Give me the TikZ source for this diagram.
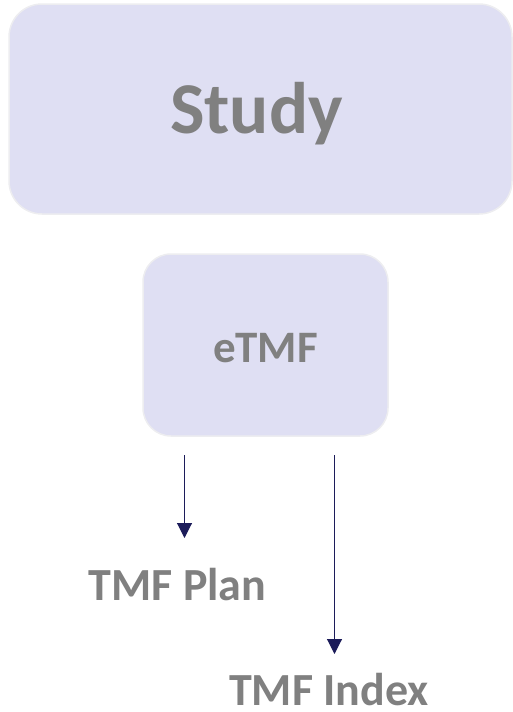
\documentclass[tikz,border=0pt]{standalone}
\usepackage{fontspec}
\setmainfont{Carlito}
\usetikzlibrary{arrows.meta}
\definecolor{boxfill}{HTML}{DFDFF3}
\definecolor{boxedge}{HTML}{EDEDF0}
\definecolor{labelgray}{HTML}{808080}
\definecolor{arrowblue}{HTML}{1C1C5A}
\tikzset{
  x=1pt, y=-1pt,
  panel/.style={fill=boxfill, draw=boxedge, line width=1.5pt},
  caption/.style={text=labelgray, font=\bfseries, anchor=base, inner sep=0pt},
  link/.style={draw=arrowblue, line width=1.1pt, -{Triangle[width=15pt,length=15pt]}},
}
\begin{document}
\begin{tikzpicture}
  \useasboundingbox (0,0) rectangle (513,712);

  % boxes
  \draw[panel, rounded corners=33pt] (9,4) rectangle (512,214);
  \draw[panel, rounded corners=28pt] (143,254) rectangle (388,436);

  % labels
  \node[caption, font=\fontsize{73}{80}\selectfont\bfseries] (study) at (256.5,133) {Study};
  \node[caption, font=\fontsize{45}{50}\selectfont\bfseries] (etmf) at (265.5,362) {eTMF};
  \node[caption, font=\fontsize{46}{52}\selectfont\bfseries] (plan) at (177.5,600) {TMF Plan};
  \node[caption, font=\fontsize{46}{52}\selectfont\bfseries] (index) at (329,705) {TMF Index};

  % arrow ends
  \coordinate (planstart) at (184.5,455);
  \coordinate (planend) at (184.5,538);
  \coordinate (indexstart) at (334.5,455);
  \coordinate (indexend) at (334.5,654);

  \draw[link] (planstart) -- (planend);
  \draw[link] (indexstart) -- (indexend);
\end{tikzpicture}
\end{document}
